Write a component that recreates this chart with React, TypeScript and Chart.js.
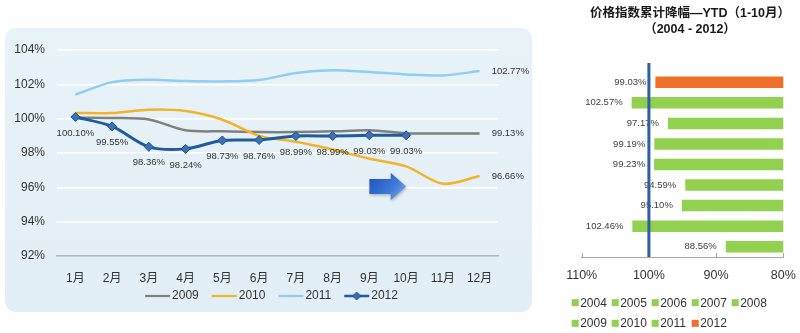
import React, { useEffect, useRef } from 'react';
import { Chart, registerables } from 'chart.js';

Chart.register(...registerables);

const FONT = "'Liberation Sans', Arial, 'Noto Sans CJK SC', sans-serif";

// ---------- Left chart data ----------
const MONTHS = ['1月', '2月', '3月', '4月', '5月', '6月', '7月', '8月', '9月', '10月', '11月', '12月'];
const SERIES_YEARS = ['2009', '2010', '2011', '2012'];
const S2009 = [100.06, 100.04, 99.95, 99.32, 99.26, 99.22, 99.22, 99.26, 99.32, 99.15, 99.13, 99.13];
const S2010 = [100.33, 100.33, 100.52, 100.44, 99.94, 99.0, 98.65, 98.2, 97.67, 97.22, 96.21, 96.66];
const S2011 = [101.4, 102.13, 102.27, 102.19, 102.17, 102.25, 102.66, 102.82, 102.72, 102.58, 102.52, 102.77];
const S2012 = [100.1, 99.55, 98.36, 98.24, 98.73, 98.76, 98.99, 98.99, 99.03, 99.03, null, null];
const END_LABELS = ['99.13%', '96.66%', '102.77%'];
const Y_MIN = 92;
const Y_MAX = 104;
const Y_STEP = 2;
const ARROW_X = [8, 9]; // category indices (9月 -> 10月)
const ARROW_Y = [96.85, 95.25];

const C2009 = '#808080';
const C2010 = '#f2b22a';
const C2011 = '#90cdf0';
const C2012 = '#1f5c9e';

// ---------- Right chart data ----------
const BAR_YEARS = ['2012', '2011', '2010', '2009', '2008', '2007', '2006', '2005', '2004'];
const BAR_VALUES = [99.03, 102.57, 97.17, 99.19, 99.23, 94.59, 95.1, 102.46, 88.56];
const LEGEND_ROWS = [['2004', '2005', '2006', '2007', '2008'], ['2009', '2010', '2011', '2012']];
const X_MIN = 80;
const X_MAX = 110;
const X_STEP = 10;
const REF_VALUE = 100;
const TITLE_LINES = ['价格指数累计降幅—YTD（1-10月）', '（2004 - 2012）'];
const GREEN = '#92d050';
const ORANGE = '#f0702a';

function makeLegendImage(color: string, diamond: boolean) {
  const c = document.createElement('canvas');
  c.width = 40;
  c.height = 12;
  const ctx = c.getContext('2d')!;
  ctx.strokeStyle = color;
  ctx.lineWidth = diamond ? 2.5 : 2.2;
  ctx.beginPath();
  ctx.moveTo(14, 6);
  ctx.lineTo(39, 6);
  ctx.stroke();
  if (diamond) {
    const cx = 26.5;
    ctx.fillStyle = '#3a72b5';
    ctx.strokeStyle = '#1f4e8c';
    ctx.lineWidth = 1;
    ctx.beginPath();
    ctx.moveTo(cx, 2);
    ctx.lineTo(cx + 4, 6);
    ctx.lineTo(cx, 10);
    ctx.lineTo(cx - 4, 6);
    ctx.closePath();
    ctx.fill();
    ctx.stroke();
  }
  return c;
}

const leftPlugin = {
  id: 'leftDecor',
  afterLayout(chart: any) {
    // centre the legend under the whole panel rather than the padded area
    if (chart.legend) {
      chart.legend.left += 18;
      chart.legend.right += 18;
    }
  },
  beforeDatasetsDraw(chart: any) {
    const { ctx, scales } = chart;
    const x0 = scales.x.getPixelForValue(ARROW_X[0]);
    const x1 = scales.x.getPixelForValue(ARROW_X[1]);
    const yTop = scales.y.getPixelForValue(ARROW_Y[0]);
    const yBot = scales.y.getPixelForValue(ARROW_Y[1]);
    const h = yBot - yTop;
    const yc = (yTop + yBot) / 2;
    const xs = x0 + (x1 - x0) * 0.58;
    const sh = h * 0.27;
    ctx.save();
    ctx.shadowColor = 'rgba(0,0,0,0.25)';
    ctx.shadowBlur = 3;
    ctx.shadowOffsetX = 1;
    ctx.shadowOffsetY = 1.5;
    const g = ctx.createLinearGradient(x0, yTop, x1, yBot);
    g.addColorStop(0, '#1c4fc0');
    g.addColorStop(0.6, '#3f7ad8');
    g.addColorStop(1, '#86b0ee');
    ctx.fillStyle = g;
    ctx.beginPath();
    ctx.moveTo(x0, yc - sh);
    ctx.lineTo(xs, yc - sh);
    ctx.lineTo(xs, yTop);
    ctx.lineTo(x1, yc);
    ctx.lineTo(xs, yBot);
    ctx.lineTo(xs, yc + sh);
    ctx.lineTo(x0, yc + sh);
    ctx.closePath();
    ctx.fill();
    ctx.restore();
  },
  afterDatasetsDraw(chart: any) {
    const { ctx } = chart;
    ctx.save();
    ctx.font = `9.5px ${FONT}`;
    ctx.fillStyle = '#333333';
    // 2012 point labels
    const meta12 = chart.getDatasetMeta(3);
    ctx.textAlign = 'center';
    ctx.textBaseline = 'middle';
    S2012.forEach((v, i) => {
      if (v == null) return;
      const el = meta12.data[i];
      ctx.fillText(v.toFixed(2) + '%', el.x, el.y + 16);
    });
    // end labels for 2009, 2010, 2011
    ctx.textAlign = 'left';
    [0, 1, 2].forEach((di) => {
      const meta = chart.getDatasetMeta(di);
      const el = meta.data[meta.data.length - 1];
      ctx.fillText(END_LABELS[di], el.x + 12, el.y);
    });
    ctx.restore();
  },
};

const rightPlugin = {
  id: 'rightDecor',
  afterDraw(chart: any) {
    const { ctx, scales, chartArea } = chart;
    const xs = scales.x;
    ctx.save();
    // title
    ctx.fillStyle = '#1a1a1a';
    ctx.font = `bold 12.5px ${FONT}`;
    ctx.textAlign = 'center';
    ctx.textBaseline = 'middle';
    const cx = chart.width / 2 + 10;
    ctx.fillText(TITLE_LINES[0], cx, 14);
    ctx.fillText(TITLE_LINES[1], cx, 30);

    // bar value labels
    const meta = chart.getDatasetMeta(0);
    ctx.font = `9.5px ${FONT}`;
    ctx.fillStyle = '#404040';
    ctx.textAlign = 'right';
    BAR_VALUES.forEach((v, i) => {
      const el = meta.data[i];
      ctx.fillText(v.toFixed(2) + '%', el.x - 9, el.y);
    });

    // small inward ticks on axis
    ctx.strokeStyle = '#a6a6a6';
    ctx.lineWidth = 1;
    for (let v = X_MIN; v <= X_MAX; v += X_STEP) {
      const px = Math.round(xs.getPixelForValue(v)) + 0.5;
      ctx.beginPath();
      ctx.moveTo(px, chartArea.bottom - 4);
      ctx.lineTo(px, chartArea.bottom);
      ctx.stroke();
    }

    // reference line at 100%
    const rx = xs.getPixelForValue(REF_VALUE);
    ctx.strokeStyle = '#2e5ea8';
    ctx.lineWidth = 3;
    ctx.beginPath();
    ctx.moveTo(rx, chartArea.top - 9);
    ctx.lineTo(rx, chartArea.bottom);
    ctx.stroke();

    // legend
    ctx.font = `12px ${FONT}`;
    ctx.textAlign = 'left';
    LEGEND_ROWS.forEach((row, r) => {
      const y = chartArea.bottom + 45.7 + r * 20.6;
      row.forEach((yr, k) => {
        const x = chartArea.left - 10 + k * 40;
        ctx.fillStyle = yr === '2012' ? ORANGE : GREEN;
        ctx.fillRect(x, y - 3.5, 7, 7);
        ctx.fillStyle = '#333333';
        ctx.fillText(yr, x + 8.5, y + 0.5);
      });
    });
    ctx.restore();
  },
};

export default function App() {
  const leftRef = useRef<HTMLCanvasElement | null>(null);
  const rightRef = useRef<HTMLCanvasElement | null>(null);

  useEffect(() => {
    Chart.defaults.font.family = FONT;
    const legendImgs = [
      makeLegendImage(C2009, false),
      makeLegendImage(C2010, false),
      makeLegendImage(C2011, false),
      makeLegendImage(C2012, true),
    ];
    const left = new Chart(leftRef.current!, {
      type: 'line',
      data: {
        labels: MONTHS,
        datasets: [
          { label: SERIES_YEARS[0], data: S2009, borderColor: C2009, borderWidth: 2.5, pointRadius: 0, tension: 0.3, order: 3 },
          { label: SERIES_YEARS[1], data: S2010, borderColor: C2010, borderWidth: 2.5, pointRadius: 0, tension: 0.3, order: 2 },
          { label: SERIES_YEARS[2], data: S2011, borderColor: C2011, borderWidth: 2.5, pointRadius: 0, tension: 0.3, order: 1 },
          {
            label: SERIES_YEARS[3], data: S2012, borderColor: C2012, borderWidth: 3, tension: 0.3, order: 0,
            pointStyle: 'rectRot', pointRadius: 4.5, pointBackgroundColor: '#3a72b5', pointBorderColor: '#1f4e8c', pointBorderWidth: 1,
          },
        ],
      },
      options: {
        responsive: false,
        animation: false,
        layout: { padding: { top: 50, right: 42, bottom: 21, left: 0 } },
        scales: {
          x: {
            offset: true,
            grid: { display: false, drawTicks: false },
            border: { display: true, color: '#a8b8c4', width: 1.5 },
            ticks: { padding: 15, color: '#333333', font: { size: 12 } },
            afterFit: (s: any) => { s.height = 30; },
          },
          y: {
            min: Y_MIN,
            max: Y_MAX,
            ticks: { stepSize: Y_STEP, padding: 12, color: '#333333', font: { size: 12 }, callback: (v: any) => v + '%' },
            grid: {
              drawTicks: false,
              lineWidth: 1.5,
              color: (c: any) => (c.tick && c.tick.value === Y_MIN ? 'rgba(0,0,0,0)' : '#ffffff'),
            },
            border: { display: false },
            afterFit: (s: any) => { s.width = 57; },
          },
        },
        plugins: {
          legend: {
            position: 'bottom',
            labels: {
              usePointStyle: true,
              pointStyleWidth: 30,
              padding: 4,
              color: '#333333',
              font: { size: 12 },
              generateLabels: () =>
                SERIES_YEARS.map((y, i) => ({
                  text: y,
                  pointStyle: legendImgs[i] as any,
                  fillStyle: 'transparent',
                  strokeStyle: 'transparent',
                  lineWidth: 0,
                  hidden: false,
                  datasetIndex: i,
                  fontColor: '#333333',
                })),
            },
          },
          tooltip: { enabled: false },
        },
      },
      plugins: [leftPlugin],
    } as any);

    const right = new Chart(rightRef.current!, {
      type: 'bar',
      data: {
        labels: BAR_YEARS,
        datasets: [
          {
            label: 'YTD',
            data: BAR_VALUES,
            backgroundColor: BAR_YEARS.map((y) => (y === '2012' ? ORANGE : GREEN)),
            barPercentage: 0.56,
            categoryPercentage: 1,
          },
        ],
      },
      options: {
        indexAxis: 'y',
        responsive: false,
        animation: false,
        layout: { padding: { top: 72, right: 16.7, bottom: 36, left: 21.7 } },
        scales: {
          x: {
            type: 'linear',
            min: X_MIN,
            max: X_MAX,
            reverse: true,
            ticks: {
              stepSize: X_STEP, padding: 4, color: '#333333',
              font: { size: 12.5, lineHeight: 2.3 },
              callback: (v: any) => v + '%',
            },
            grid: { display: false, drawTicks: false },
            border: { display: true, color: '#a6a6a6', width: 1 },
            afterFit: (s: any) => { s.height = 40; },
          },
          y: { display: false },
        },
        plugins: { legend: { display: false }, tooltip: { enabled: false } },
      },
      plugins: [rightPlugin],
    } as any);

    return () => {
      left.destroy();
      right.destroy();
    };
  }, []);

  return (
    <div style={{ position: 'absolute', left: 0, top: 0, width: 800, height: 333, background: '#ffffff', overflow: 'hidden' }}>
      <div
        style={{
          position: 'absolute', left: 5, top: 28, width: 527, height: 284, borderRadius: 11,
          background: 'linear-gradient(180deg, #e8f3f8 0%, #e2eef5 100%)',
        }}
      />
      <canvas ref={leftRef} width={540} height={333} style={{ position: 'absolute', left: 0, top: 0, width: 540, height: 333 }} />
      <canvas ref={rightRef} width={240} height={333} style={{ position: 'absolute', left: 560, top: 0, width: 240, height: 333 }} />
    </div>
  );
}
